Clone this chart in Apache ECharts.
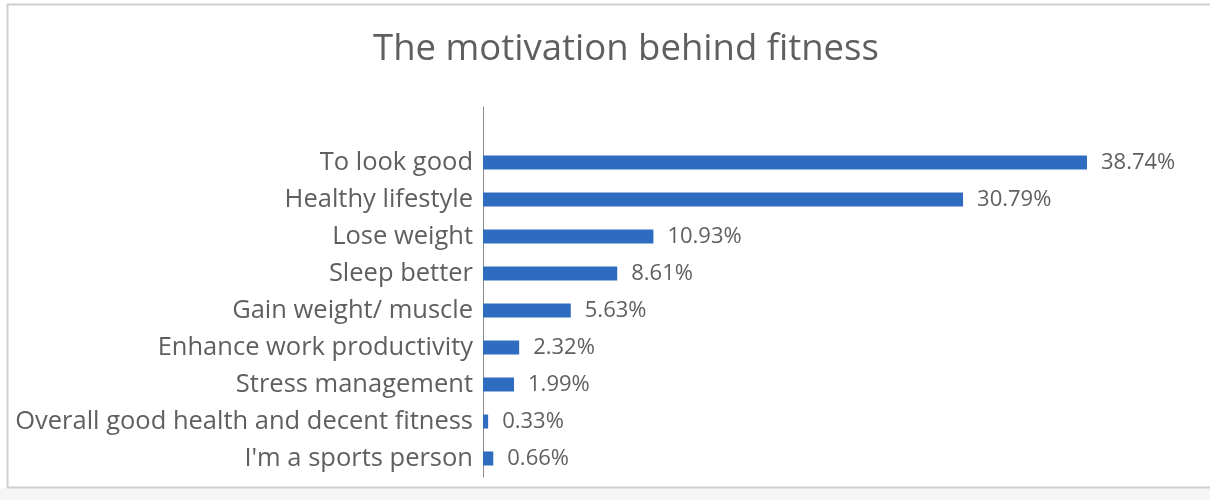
<!DOCTYPE html>
<html>
<head>
<meta charset="utf-8">
<script src="https://cdn.jsdelivr.net/npm/echarts@6/dist/echarts.min.js"></script>
<style>
  html, body { margin: 0; padding: 0; background: #ffffff; }
  #chart { width: 1210px; height: 500px; }
</style>
</head>
<body>
<div id="chart"></div>
<script>
// Survey answers, listed top to bottom; the leading blank row leaves
// an empty slot above the first bar.
const categories = [
  '',
  'To look good',
  'Healthy lifestyle',
  'Lose weight',
  'Sleep better',
  'Gain weight/ muscle',
  'Enhance work productivity',
  'Stress management',
  'Overall good health and decent fitness',
  "I'm a sports person"
];
const shares = [null, 38.74, 30.79, 10.93, 8.61, 5.63, 2.32, 1.99, 0.33, 0.66];
const chartTitle = 'The motivation behind fitness';

const FONT = 'Open Sans, sans-serif';
const TEXT = '#5f5f5f';

const chart = echarts.init(document.getElementById('chart'), null, { renderer: 'canvas' });

chart.setOption({
  animation: false,
  backgroundColor: '#ffffff',
  graphic: [
    {
      type: 'rect',
      shape: { x: 0, y: 488, width: 1210, height: 12 },
      style: { fill: '#f6f6f6' },
      silent: true
    },
    {
      type: 'rect',
      shape: { x: 7.5, y: 4.5, width: 1205, height: 483 },
      style: { fill: 'none', stroke: '#cfcfcf', lineWidth: 2 },
      silent: true
    },
    {
      type: 'text',
      x: 626,
      y: 50,
      style: {
        text: chartTitle,
        font: '36.5px ' + FONT,
        fill: TEXT,
        align: 'center',
        verticalAlign: 'middle'
      },
      silent: true
    }
  ],
  grid: {
    left: 483,
    top: 107,
    width: 701.6,
    height: 370,
    containLabel: false
  },
  xAxis: {
    type: 'value',
    min: 0,
    max: 45,
    show: false
  },
  yAxis: {
    type: 'category',
    data: categories,
    inverse: true,
    axisLine: { show: true, lineStyle: { color: '#8c8c8c', width: 1 } },
    axisTick: { show: false },
    splitLine: { show: false },
    axisLabel: {
      color: TEXT,
      fontFamily: FONT,
      fontSize: 25.5,
      margin: 10
    }
  },
  series: [
    {
      type: 'bar',
      data: shares,
      barWidth: 14,
      itemStyle: { color: '#2e6cbf' },
      label: {
        show: true,
        position: 'right',
        distance: 14,
        color: TEXT,
        fontFamily: FONT,
        fontSize: 22,
        formatter: p => (p.value == null ? '' : p.value.toFixed(2) + '%')
      }
    }
  ]
});
</script>
</body>
</html>
